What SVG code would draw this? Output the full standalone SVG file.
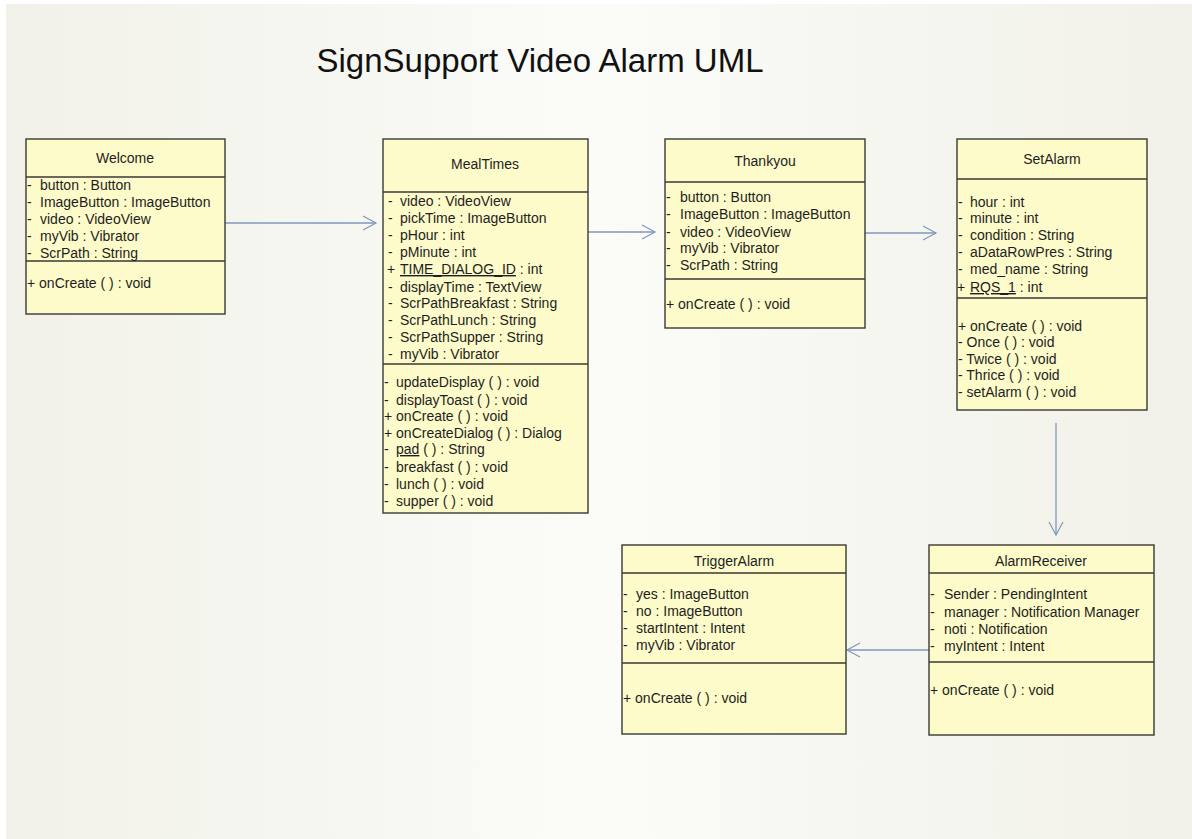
<svg xmlns="http://www.w3.org/2000/svg" width="1192" height="839" viewBox="0 0 1192 839">
<defs>
<linearGradient id="bg" x1="0" y1="0" x2="1" y2="0">
<stop offset="0" stop-color="#f1f1e9"/>
<stop offset="0.5" stop-color="#fbfbf8"/>
<stop offset="1" stop-color="#f1f1e9"/>
</linearGradient>
<marker id="open" markerWidth="16" markerHeight="16" refX="14" refY="8" orient="auto" markerUnits="userSpaceOnUse">
<path d="M1,1 L14,8 L1,15" fill="none" stroke="#7f97bd" stroke-width="1.2"/>
</marker>
<style>
.box{fill:#fdfbca;stroke:#3a3a34;stroke-width:1.4}
.sep{stroke:#3a3a34;stroke-width:1.4}
text{font-family:"Liberation Sans",Arial,sans-serif;font-size:14px;fill:#1e1e1e}
.ttl{text-anchor:middle}
.u{text-decoration:underline}
.conn{stroke:#7f97bd;stroke-width:1.3;fill:none;marker-end:url(#open)}
.title{font-size:33px;fill:#111}
</style>
</defs>
<rect width="1192" height="839" fill="url(#bg)"/>
<rect x="0" y="0" width="6" height="839" fill="#ffffff"/>
<rect x="0" y="0" width="1192" height="4" fill="#ffffff"/>
<text class="title" x="540" y="72" text-anchor="middle">SignSupport Video Alarm UML</text>

<g id="connectors">
<line class="conn" x1="225" y1="223" x2="376" y2="223"/>
<line class="conn" x1="588" y1="232" x2="655" y2="232"/>
<line class="conn" x1="865" y1="233" x2="936" y2="233"/>
<line class="conn" x1="1056" y1="423" x2="1056" y2="535"/>
<line class="conn" x1="930" y1="650" x2="847" y2="650"/>
</g>

<g id="Welcome">
<rect class="box" x="26" y="139" width="199" height="175"/>
<line class="sep" x1="26" y1="177" x2="225" y2="177"/>
<line class="sep" x1="26" y1="261" x2="225" y2="261"/>
<text class="ttl" x="125" y="163">Welcome</text>
<text x="27" y="190">-</text><text x="40" y="190">button : Button</text>
<text x="27" y="207">-</text><text x="40" y="207">ImageButton : ImageButton</text>
<text x="27" y="224">-</text><text x="40" y="224">video : VideoView</text>
<text x="27" y="241">-</text><text x="40" y="241">myVib : Vibrator</text>
<text x="27" y="258">-</text><text x="40" y="258">ScrPath : String</text>
<text x="27" y="288">+ onCreate ( ) : void</text>
</g>

<g id="MealTimes">
<rect class="box" x="383" y="139" width="205" height="374"/>
<line class="sep" x1="383" y1="192" x2="588" y2="192"/>
<line class="sep" x1="383" y1="364" x2="588" y2="364"/>
<text class="ttl" x="485" y="169">MealTimes</text>
<text x="388" y="206">-</text><text x="400" y="206">video : VideoView</text>
<text x="388" y="223">-</text><text x="400" y="223">pickTime : ImageButton</text>
<text x="388" y="240">-</text><text x="400" y="240">pHour : int</text>
<text x="388" y="257">-</text><text x="400" y="257">pMinute : int</text>
<text x="387" y="274">+</text><text x="400" y="274"><tspan class="u">TIME_DIALOG_ID</tspan> : int</text>
<text x="388" y="292">-</text><text x="400" y="292">displayTime : TextView</text>
<text x="388" y="308">-</text><text x="400" y="308">ScrPathBreakfast : String</text>
<text x="388" y="325">-</text><text x="400" y="325">ScrPathLunch : String</text>
<text x="388" y="342">-</text><text x="400" y="342">ScrPathSupper : String</text>
<text x="388" y="359">-</text><text x="400" y="359">myVib : Vibrator</text>
<text x="384" y="387">-</text><text x="396" y="387">updateDisplay ( ) : void</text>
<text x="384" y="405">-</text><text x="396" y="405">displayToast ( ) : void</text>
<text x="384" y="421">+ onCreate ( ) : void</text>
<text x="384" y="438">+ onCreateDialog ( ) : Dialog</text>
<text x="384" y="454">-</text><text x="396" y="454"><tspan class="u">pad</tspan> ( ) : String</text>
<text x="384" y="472">-</text><text x="396" y="472">breakfast ( ) : void</text>
<text x="384" y="489">-</text><text x="396" y="489">lunch ( ) : void</text>
<text x="384" y="506">-</text><text x="396" y="506">supper ( ) : void</text>
</g>

<g id="Thankyou">
<rect class="box" x="665" y="139" width="200" height="189"/>
<line class="sep" x1="665" y1="182" x2="865" y2="182"/>
<line class="sep" x1="665" y1="279" x2="865" y2="279"/>
<text class="ttl" x="765" y="166">Thankyou</text>
<text x="666" y="202">-</text><text x="680" y="202">button : Button</text>
<text x="666" y="219">-</text><text x="680" y="219">ImageButton : ImageButton</text>
<text x="666" y="237">-</text><text x="680" y="237">video : VideoView</text>
<text x="666" y="253">-</text><text x="680" y="253">myVib : Vibrator</text>
<text x="666" y="270">-</text><text x="680" y="270">ScrPath : String</text>
<text x="666" y="309">+ onCreate ( ) : void</text>
</g>

<g id="SetAlarm">
<rect class="box" x="957" y="139" width="190" height="271"/>
<line class="sep" x1="957" y1="179" x2="1147" y2="179"/>
<line class="sep" x1="957" y1="298" x2="1147" y2="298"/>
<text class="ttl" x="1052" y="164">SetAlarm</text>
<text x="958" y="207">-</text><text x="970" y="207">hour : int</text>
<text x="958" y="223">-</text><text x="970" y="223">minute : int</text>
<text x="958" y="240">-</text><text x="970" y="240">condition : String</text>
<text x="958" y="257">-</text><text x="970" y="257">aDataRowPres : String</text>
<text x="958" y="274">-</text><text x="970" y="274">med_name : String</text>
<text x="957" y="292">+</text><text x="970" y="292"><tspan class="u">RQS_1</tspan> : int</text>
<text x="958" y="331">+ onCreate ( ) : void</text>
<text x="958" y="347">- Once ( ) : void</text>
<text x="958" y="364">- Twice ( ) : void</text>
<text x="958" y="380">- Thrice ( ) : void</text>
<text x="958" y="397">- setAlarm ( ) : void</text>
</g>

<g id="TriggerAlarm">
<rect class="box" x="622" y="545" width="224" height="189"/>
<line class="sep" x1="622" y1="573" x2="846" y2="573"/>
<line class="sep" x1="622" y1="663" x2="846" y2="663"/>
<text class="ttl" x="734" y="566">TriggerAlarm</text>
<text x="623" y="599">-</text><text x="636" y="599">yes : ImageButton</text>
<text x="623" y="616">-</text><text x="636" y="616">no : ImageButton</text>
<text x="623" y="633">-</text><text x="636" y="633">startIntent : Intent</text>
<text x="623" y="650">-</text><text x="636" y="650">myVib : Vibrator</text>
<text x="623" y="703">+ onCreate ( ) : void</text>
</g>

<g id="AlarmReceiver">
<rect class="box" x="929" y="545" width="225" height="190"/>
<line class="sep" x1="929" y1="573" x2="1154" y2="573"/>
<line class="sep" x1="929" y1="662" x2="1154" y2="662"/>
<text class="ttl" x="1041" y="566">AlarmReceiver</text>
<text x="930" y="599">-</text><text x="944" y="599">Sender : PendingIntent</text>
<text x="930" y="617">-</text><text x="944" y="617">manager : Notification Manager</text>
<text x="930" y="634">-</text><text x="944" y="634">noti : Notification</text>
<text x="930" y="651">-</text><text x="944" y="651">myIntent : Intent</text>
<text x="930" y="695">+ onCreate ( ) : void</text>
</g>
</svg>
